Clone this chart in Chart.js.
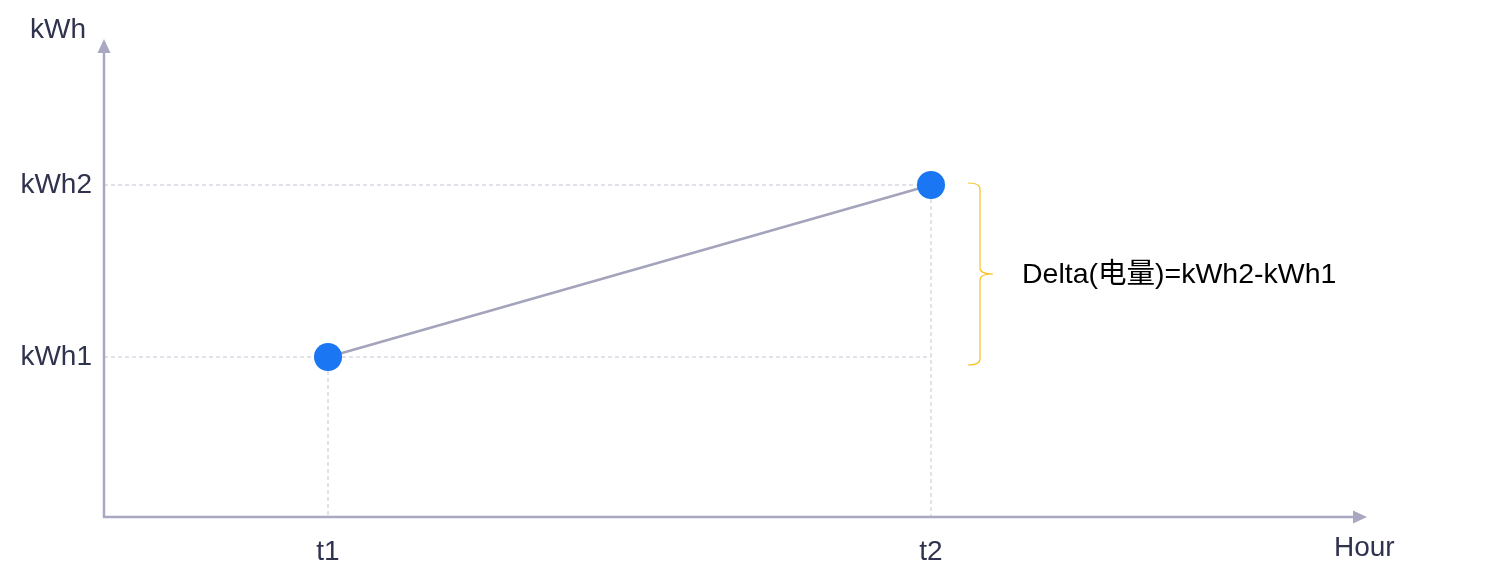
<!DOCTYPE html>
<html>
<head>
<meta charset="utf-8">
<script src="https://cdn.jsdelivr.net/npm/chart.js@4/dist/chart.umd.min.js"></script>
<style>
    html, body { margin: 0; padding: 0; background: #fff; }
    #wrap { width: 1489px; height: 585px; position: relative; }
</style>
</head>
<body>
<div id="wrap"><canvas id="chartDelta"></canvas></div>
<script>
// --- Dados ---
const xLabels = ['t1', 't2'];
const xValues = [1, 2];
const yLabels = ['kWh1', 'kWh2'];
const yValues = [1, 2];
const yTitle = 'kWh';
const xTitle = 'Hour';
const deltaText = 'Delta(电量)=kWh2-kWh1';

const FONT = "'Liberation Sans', Arial, 'Noto Sans CJK SC', sans-serif";
const AXIS_COLOR = '#a8a9c1';
const LABEL_COLOR = '#30334e';

// --- Guias, eixos e chaveta ---
const diagram = {
    id: 'diagram',
    beforeDatasetsDraw(chart) {
        const { ctx, scales: { x, y }, chartArea } = chart;
        const xEnd = x.getPixelForValue(xValues[xValues.length - 1]);
        ctx.save();
        ctx.strokeStyle = '#c3c4d6';
        ctx.lineWidth = 1;
        ctx.setLineDash([4, 3]);
        yValues.forEach(v => {
            const py = y.getPixelForValue(v);
            ctx.beginPath();
            ctx.moveTo(chartArea.left, py);
            ctx.lineTo(xEnd, py);
            ctx.stroke();
        });
        xValues.forEach((v, i) => {
            const px = x.getPixelForValue(v);
            ctx.beginPath();
            ctx.moveTo(px, y.getPixelForValue(yValues[i]));
            ctx.lineTo(px, chartArea.bottom);
            ctx.stroke();
        });
        ctx.restore();
    },
    afterDraw(chart) {
        const { ctx, scales: { x, y }, chartArea } = chart;
        const L = chartArea.left, B = chartArea.bottom;
        ctx.save();

        // eixos
        ctx.strokeStyle = AXIS_COLOR;
        ctx.fillStyle = AXIS_COLOR;
        ctx.lineWidth = 2.5;
        ctx.beginPath();
        ctx.moveTo(L, chartArea.top + 10);
        ctx.lineTo(L, B);
        ctx.lineTo(chartArea.right - 10, B);
        ctx.stroke();
        // setas
        ctx.beginPath();
        ctx.moveTo(L, chartArea.top - 1);
        ctx.lineTo(L - 6.5, chartArea.top + 13);
        ctx.lineTo(L + 6.5, chartArea.top + 13);
        ctx.closePath();
        ctx.fill();
        ctx.beginPath();
        ctx.moveTo(chartArea.right + 1, B);
        ctx.lineTo(chartArea.right - 13, B - 6.5);
        ctx.lineTo(chartArea.right - 13, B + 6.5);
        ctx.closePath();
        ctx.fill();

        // títulos
        ctx.fillStyle = LABEL_COLOR;
        ctx.font = `28px ${FONT}`;
        ctx.textBaseline = 'alphabetic';
        ctx.textAlign = 'left';
        ctx.fillText(yTitle, 30, 38);
        ctx.fillText(xTitle, 1334, 556);

        // chaveta
        const top = y.getPixelForValue(yValues[1]) - 2;
        const bot = y.getPixelForValue(yValues[0]) + 8;
        const mid = (top + bot) / 2;
        const bx = 980;
        ctx.strokeStyle = '#f6c21c';
        ctx.lineWidth = 1.2;
        ctx.beginPath();
        ctx.moveTo(968, top);
        ctx.quadraticCurveTo(bx, top, bx, top + 6);
        ctx.lineTo(bx, mid - 6);
        ctx.quadraticCurveTo(bx, mid, bx + 13, mid);
        ctx.quadraticCurveTo(bx, mid, bx, mid + 6);
        ctx.lineTo(bx, bot - 6);
        ctx.quadraticCurveTo(bx, bot, 968, bot);
        ctx.stroke();

        ctx.fillStyle = '#000';
        ctx.font = `28.5px ${FONT}`;
        ctx.textBaseline = 'middle';
        ctx.fillText(deltaText, 1022, mid + 1);
        ctx.restore();
    }
};

// --- Gráfico ---
new Chart(document.getElementById('chartDelta'), {
    type: 'scatter',
    data: {
        datasets: [{
            data: xValues.map((v, i) => ({ x: v, y: yValues[i] })),
            showLine: true,
            borderColor: '#a3a4bb',
            borderWidth: 2.5,
            backgroundColor: '#1a76f2',
            pointBackgroundColor: '#1a76f2',
            pointBorderWidth: 0,
            pointRadius: 14,
            pointHoverRadius: 14,
            clip: false
        }]
    },
    options: {
        responsive: true,
        maintainAspectRatio: false,
        animation: false,
        events: [],
        layout: { padding: { top: 40, right: 123, left: 0, bottom: 0 } },
        plugins: {
            legend: { display: false },
            tooltip: { enabled: false }
        },
        scales: {
            x: {
                type: 'linear',
                min: 0.6285,
                max: 2.7214,
                afterFit(scale) { scale.height = 68; },
                afterBuildTicks(scale) { scale.ticks = xValues.map(v => ({ value: v })); },
                grid: { display: false, drawTicks: false },
                border: { display: false },
                ticks: {
                    padding: 18,
                    color: LABEL_COLOR,
                    font: { family: FONT, size: 28 },
                    callback: (v) => xLabels[xValues.indexOf(v)] ?? ''
                }
            },
            y: {
                type: 'linear',
                min: 0.0698,
                max: 2.843,
                afterFit(scale) { scale.width = 104; },
                afterBuildTicks(scale) { scale.ticks = yValues.map(v => ({ value: v })); },
                grid: { display: false, drawTicks: false },
                border: { display: false },
                ticks: {
                    padding: 12,
                    color: LABEL_COLOR,
                    font: { family: FONT, size: 28 },
                    callback: (v) => yLabels[yValues.indexOf(v)] ?? ''
                }
            }
        }
    },
    plugins: [diagram]
});
</script>
</body>
</html>
